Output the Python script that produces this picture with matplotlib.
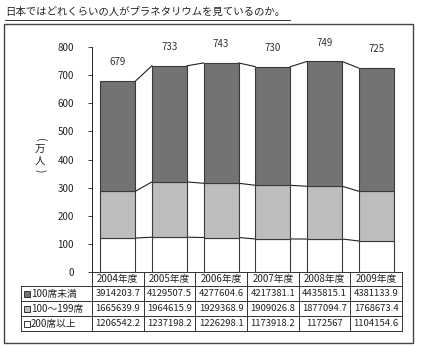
import matplotlib.pyplot as plt
from matplotlib.patches import Rectangle
from matplotlib.lines import Line2D
import numpy as np

plt.rcParams['font.family'] = ['Noto Sans CJK JP', 'DejaVu Sans']

# data (people), shown in 万人 on the chart
years = ['2004年度', '2005年度', '2006年度', '2007年度', '2008年度', '2009年度']
seats_small = [3914203.7, 4129507.5, 4277604.6, 4217381.1, 4435815.1, 4381133.9]   # 100席未満
seats_mid = [1665639.9, 1964615.9, 1929368.9, 1909026.8, 1877094.7, 1768673.4]     # 100～199席
seats_large = [1206542.2, 1237198.2, 1226298.1, 1173918.2, 1172567, 1104154.6]     # 200席以上
row_names = ['100席未満', '100～199席', '200席以上']
totals = [679, 733, 743, 730, 749, 725]

c_dark = '#737373'
c_light = '#bdbdbd'
c_white = '#ffffff'
c_edge = '#3a3a3a'
c_txt = '#222222'

W, H = 423, 347
fig = plt.figure(figsize=(W / 100, H / 100), dpi=100)
ax = fig.add_axes([92 / W, 1 - 272 / H, 310 / W, 225 / H])

x = np.arange(len(years))
bw = 0.68
large = np.array(seats_large) / 1e4
mid = np.array(seats_mid) / 1e4
small = np.array(seats_small) / 1e4

ax.bar(x, large, bw, color=c_white, edgecolor=c_edge, linewidth=0.8, zorder=2)
ax.bar(x, mid, bw, bottom=large, color=c_light, edgecolor=c_edge, linewidth=0.8, zorder=2)
ax.bar(x, small, bw, bottom=large + mid, color=c_dark, edgecolor=c_edge, linewidth=0.8, zorder=2)

# series lines between bars
for lev in [large, large + mid, large + mid + small]:
    for i in range(len(x) - 1):
        ax.plot([x[i] + bw / 2, x[i + 1] - bw / 2], [lev[i], lev[i + 1]],
                color=c_txt, lw=0.8, zorder=1)

for i, t in enumerate(totals):
    ax.annotate(str(t), (x[i], large[i] + mid[i] + small[i]), xytext=(0, 10),
                textcoords='offset points', ha='center', va='bottom',
                fontsize=7, color='#333333', annotation_clip=False)

ax.set_xlim(-0.5, len(x) - 0.5)
ax.set_ylim(0, 800)
ax.set_yticks(np.arange(0, 801, 100))
ax.set_xticks([])
ax.tick_params(axis='y', labelsize=7, length=3, width=0.6, colors=c_txt, pad=10)
for s in ['top', 'right', 'bottom']:
    ax.spines[s].set_visible(False)
ax.spines['left'].set_linewidth(0.7)
ax.spines['left'].set_color(c_txt)

# y label, written vertically
tf = fig.transFigure
ax.text(40 / W, 1 - 140 / H, '(', transform=tf, rotation=-90, ha='center', va='center',
        fontsize=7.5, color=c_txt)
ax.text(40 / W, 1 - 155 / H, '万\n人', transform=tf, ha='center', va='center',
        fontsize=7.5, linespacing=1.1, color=c_txt)
ax.text(40 / W, 1 - 171 / H, ')', transform=tf, rotation=-90, ha='center', va='center',
        fontsize=7.5, color=c_txt)


def fmt(v):
    return str(int(v)) if v == int(v) else f'{v:.1f}'


# data table, drawn by hand in pixel coordinates
def px(xp, yp):
    return xp / W, 1 - yp / H


left_lab = 20.7
col0 = 92.0
cw = 51.67
row_top = [272, 286, 301, 316]
row_bot = 331
ncol = len(years)
right = col0 + cw * ncol


def hline(x0, x1, y):
    fig.lines.append(Line2D([x0 / W, x1 / W], [1 - y / H] * 2, transform=tf,
                            color='#333333', lw=0.7))


def vline(xx, y0, y1):
    fig.lines.append(Line2D([xx / W] * 2, [1 - y0 / H, 1 - y1 / H], transform=tf,
                            color='#333333', lw=0.7))


hline(col0, right, row_top[0])
for yy in row_top[1:] + [row_bot]:
    hline(left_lab, right, yy)
vline(left_lab, row_top[1], row_bot)
for k in range(ncol + 1):
    vline(col0 + cw * k, row_top[0], row_bot)

for k, yname in enumerate(years):
    fig.text(*px(col0 + cw * (k + 0.5), (row_top[0] + row_top[1]) / 2), yname,
             ha='center', va='center', fontsize=7, color=c_txt)

rows = [seats_small, seats_mid, seats_large]
bounds = row_top[1:] + [row_bot]
for j, (name, vals, col) in enumerate(zip(row_names, rows, [c_dark, c_light, c_white])):
    yc = (bounds[j] + bounds[j + 1]) / 2
    fig.patches.append(Rectangle(px(23.5, yc + 3), 6 / W, 6 / H, transform=tf,
                                 facecolor=col, edgecolor='#333333', linewidth=0.7))
    fig.text(*px(31, yc), name, ha='left', va='center', fontsize=7, color=c_txt)
    for k, v in enumerate(vals):
        fig.text(*px(col0 + cw * (k + 0.5), yc), fmt(v), ha='center', va='center',
                 fontsize=6.8, color=c_txt)

# title and outer frame
fig.text(5 / W, 1 - 12 / H, '日本ではどれくらいの人がプラネタリウムを見ているのか。',
         fontsize=7.5, ha='left', va='center', color=c_txt)
hline(5, 290, 19.5)
fig.patches.append(Rectangle(px(4, 343), 409 / W, 319 / H, transform=tf, fill=False,
                             edgecolor='#444444', linewidth=1.0))

fig.savefig('out.png', dpi=100)
